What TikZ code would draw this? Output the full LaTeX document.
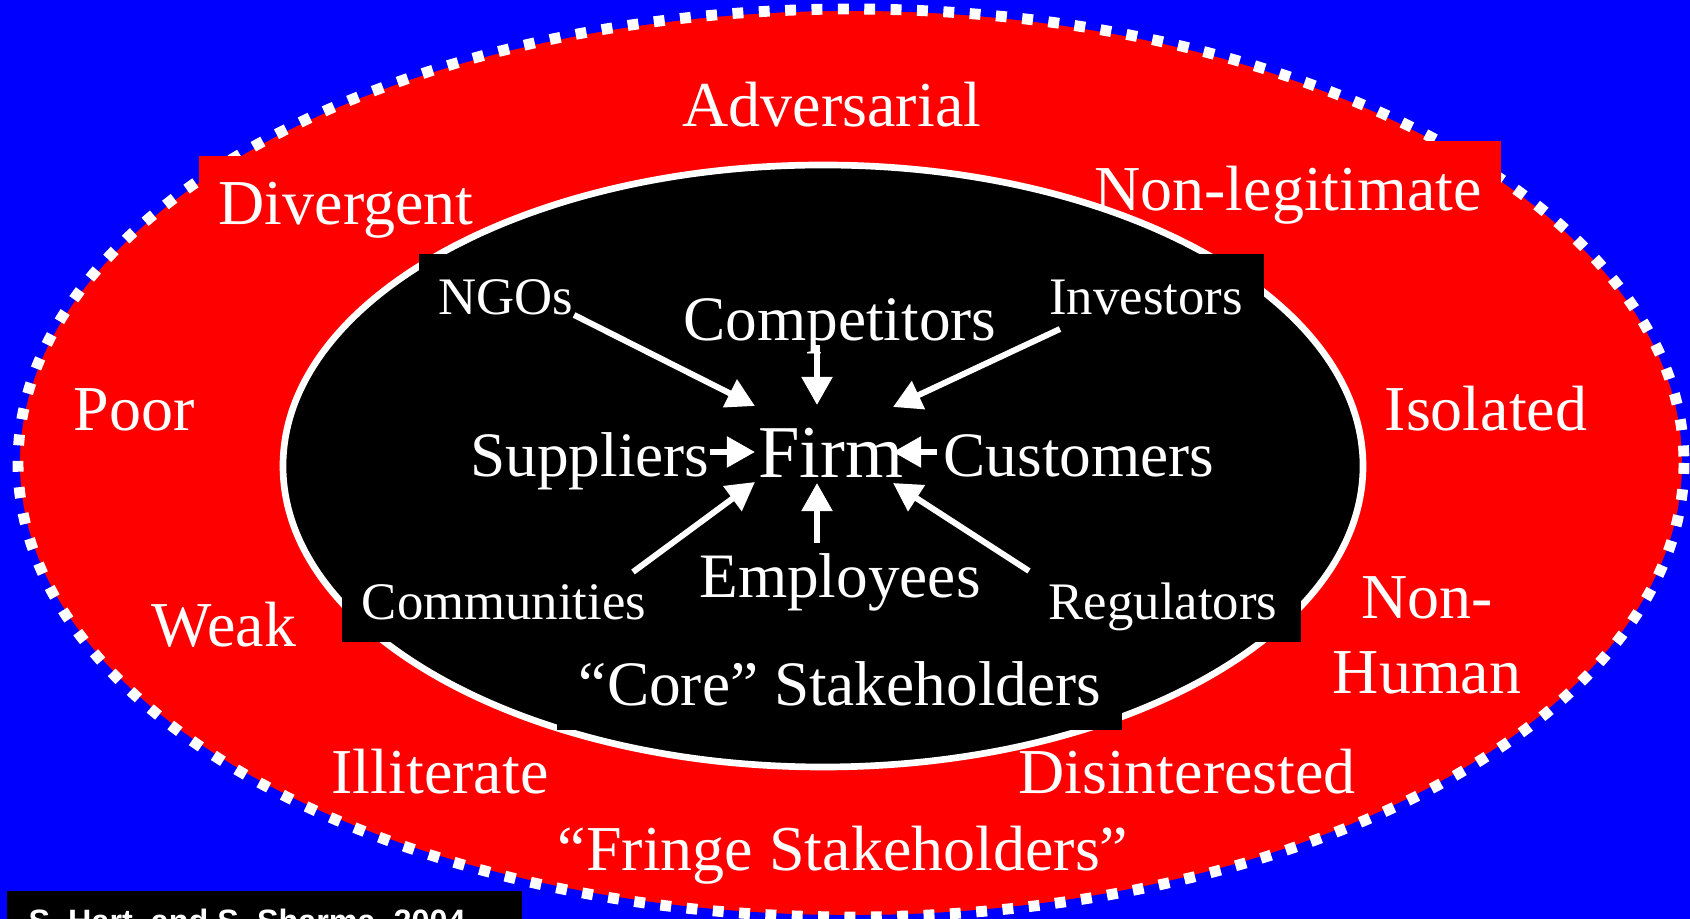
\documentclass[tikz,border=0pt]{standalone}
\usepackage{fontspec}
\setmainfont{Liberation Serif}
\newfontfamily\footfont{Liberation Sans}
\usetikzlibrary{arrows.meta}

\definecolor{skyblue}{RGB}{0,0,255}
\definecolor{ringred}{RGB}{255,0,0}

\tikzstyle{arrow} = [white, line width=1.7pt, -{Triangle[length=8pt, width=8.5pt]}]
\tikzstyle{fringe} = [text=white, inner sep=0pt, anchor=base, font=\fontsize{18.2}{21.3}\selectfont]
\tikzstyle{core} = [text=white, inner sep=0pt, anchor=base, font=\fontsize{18}{21}\selectfont]
\tikzstyle{minor} = [text=white, inner sep=0pt, anchor=base, font=\fontsize{15}{18}\selectfont]

\begin{document}
\begin{tikzpicture}[x=0.01cm, y=-0.01cm]
    \useasboundingbox (0,0) rectangle (1690,919);
    \fill[skyblue] (0,0) rectangle (1690,919);

    % Fringe ring with its dotted rim
    \fill[ringred] (851,463) ellipse [x radius=833, y radius=454];
    \draw[skyblue, line width=1.1pt] (851,463) ellipse [x radius=833, y radius=454];
    \draw[white, line width=3.1pt, dash pattern=on 3.1pt off 4.4pt] (851,463) ellipse [x radius=833, y radius=454];
    \fill[ringred] (199,156) rectangle (480,240);
    \fill[ringred] (1080,141) rectangle (1501,230);

    % Core
    \draw[white, line width=1.9pt, fill=black] (823,466) ellipse [x radius=540, y radius=301];
    \fill[black] (419,254) rectangle (600,340);
    \fill[black] (1040,254) rectangle (1264,340);
    \fill[black] (342,545) rectangle (520,642);
    \fill[black] (1100,545) rectangle (1301,642);
    \fill[black] (557,665) rectangle (1122,730);

    % Source
    \fill[black] (7,891) rectangle (522,950);
    \node[text=white, inner sep=0pt, anchor=base west, font=\footfont\bfseries\fontsize{9.2}{11}\selectfont] (source) at (28,933) {S. Hart, and S. Sharma, 2004};

    % Fringe labels
    \node[fringe] (adv) at (832,127) {Adversarial};
    \node[fringe] (div) at (346,225) {Divergent};
    \node[fringe] (nonleg) at (1288,211) {Non-legitimate};
    \node[fringe] (poor) at (134,431) {Poor};
    \node[fringe] (isol) at (1486,431) {Isolated};
    \node[fringe] (weak) at (224,647) {Weak};
    \node[fringe, anchor=center, align=center] (nonhum) at (1427,635) {Non-\\Human};
    \node[fringe] (illit) at (440,794) {Illiterate};
    \node[fringe] (disint) at (1187,794) {Disinterested};
    \node[fringe] (fringetitle) at (843,871) {“Fringe Stakeholders”};

    % Core labels
    \node[core, font=\fontsize{21.2}{24}\selectfont] (firm) at (831,478) {Firm};
    \node[core] (comp) at (840,341) {Competitors};
    \node[core] (supp) at (590,477) {Suppliers};
    \node[core] (cust) at (1079,477) {Customers};
    \node[core] (empl) at (840,598) {Employees};
    \node[core] (coretitle) at (840,706) {“Core” Stakeholders};
    \node[minor] (ngos) at (506,315) {NGOs};
    \node[minor] (inv) at (1146,315) {Investors};
    \node[minor] (comm) at (504,620) {Communities};
    \node[minor] (regu) at (1163,620) {Regulators};

    % Arrow ends around the firm
    \coordinate (tnw) at (755,406);
    \coordinate (tn) at (817,405);
    \coordinate (tne) at (893,407);
    \coordinate (tw) at (755,452);
    \coordinate (te) at (893,452);
    \coordinate (tsw) at (755,482);
    \coordinate (ts) at (817,483);
    \coordinate (tse) at (893,483);
    \coordinate (scomp) at (817,345);
    \coordinate (sinv) at (1060,329);
    \coordinate (ssupp) at (710,452);
    \coordinate (scust) at (937,452);
    \coordinate (scomm) at (633,572);
    \coordinate (sempl) at (817,543);
    \coordinate (sregu) at (1029,571);

    % Arrows
    \draw[arrow] (ngos.base east) -- (tnw);
    \draw[arrow] (scomp) -- (tn);
    \draw[arrow] (sinv) -- (tne);
    \draw[arrow] (ssupp) -- (tw);
    \draw[arrow] (scust) -- (te);
    \draw[arrow] (scomm) -- (tsw);
    \draw[arrow] (sempl) -- (ts);
    \draw[arrow] (sregu) -- (tse);
\end{tikzpicture}
\end{document}
